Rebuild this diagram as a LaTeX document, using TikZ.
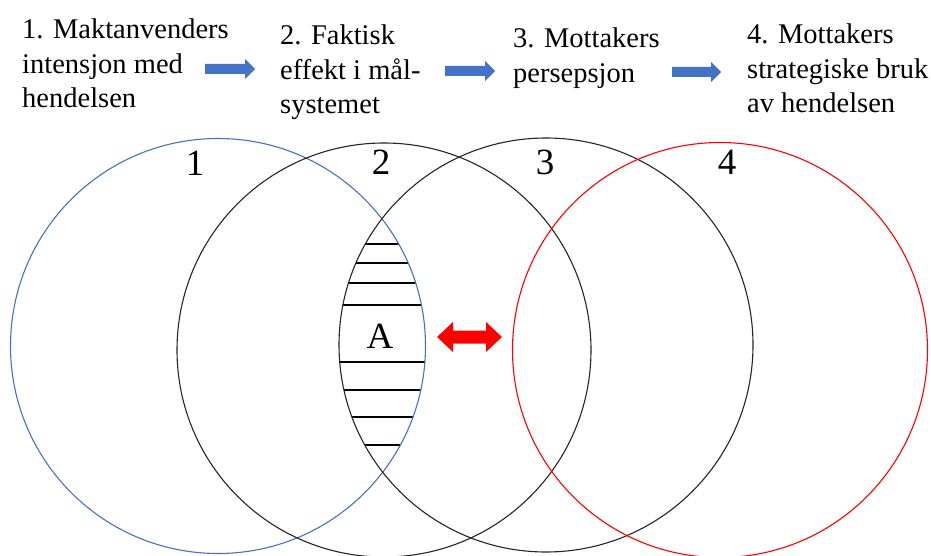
\documentclass[tikz,border=0pt]{standalone}
\usepackage{fontspec}
\setmainfont{Liberation Serif}
\definecolor{arrowblue}{HTML}{4472C4}
\definecolor{circblue}{HTML}{4472C4}
\definecolor{circred}{HTML}{FF0000}
\tikzset{
  steptext/.style={anchor=north west, align=left, inner sep=0pt,
    font=\fontsize{28.5}{34.5}\selectfont},
  numlabel/.style={anchor=base, inner sep=0pt, font=\fontsize{37}{40}\selectfont},
  ring/.style={line width=1.1pt},
  flowarrow/.style={fill=arrowblue},
  hatchline/.style={line width=2pt, black}
}
\begin{document}
\begin{tikzpicture}[x=1pt, y=-1pt]
\useasboundingbox (0,0) rectangle (931,556);
\fill[white] (0,0) rectangle (931,556);
\clip (0,0) rectangle (931,556);

% text blocks
\node[steptext] (t1) at (22,19) {1. Maktanvenders\\intensjon med\\hendelsen};
\node[steptext] (t2) at (280,25) {2. Faktisk\\effekt i mål-\\systemet};
\node[steptext] (t3) at (513,28) {3. Mottakers\\persepsjon};
\node[steptext] (t4) at (747,24) {4. Mottakers\\strategiske bruk\\av hendelsen};

% blue block arrows
\fill[flowarrow] (205,64) -- (245,64) -- (245,59) -- (255,69) -- (245,79) -- (245,74) -- (205,74) -- cycle;
\fill[flowarrow] (445,66) -- (485,66) -- (485,61) -- (495,71) -- (485,81) -- (485,76) -- (445,76) -- cycle;
\fill[flowarrow] (672,67) -- (711,67) -- (711,62) -- (721,72) -- (711,82) -- (711,77) -- (672,77) -- cycle;

% circle centres
\coordinate (c1) at (218,346);
\coordinate (c2) at (384,350);
\coordinate (c3) at (546,345);
\coordinate (c4) at (720,350);

% hatching of area A
\begin{scope}
  \clip (c1) circle[radius=207.5pt];
  \clip (c3) circle[radius=207pt];
  \foreach \yy in {244,263,283,305,362,390,417,445}
    \draw[hatchline] (320,\yy) -- (440,\yy);
\end{scope}

% circles
\draw[ring, circblue] (c1) circle[radius=207.5pt];
\draw[ring, black!85] (c2) circle[radius=207pt];
\draw[ring, black!85] (c3) circle[radius=207pt];
\draw[ring, circred] (c4) circle[radius=207.5pt];

% labels
\node[numlabel] (n1) at (195,176) {1};
\node[numlabel] (n2) at (381,175) {2};
\node[numlabel] (n3) at (545,175) {3};
\node[numlabel] (n4) at (727,175) {4};
\node[numlabel] (A) at (380,348) {A};

% red double arrow
\fill[circred] (437,337) -- (453,322) -- (453,330.5) -- (486,330.5) -- (486,322) -- (502,337)
  -- (486,352) -- (486,343.5) -- (453,343.5) -- (453,352) -- cycle;
\end{tikzpicture}
\end{document}
